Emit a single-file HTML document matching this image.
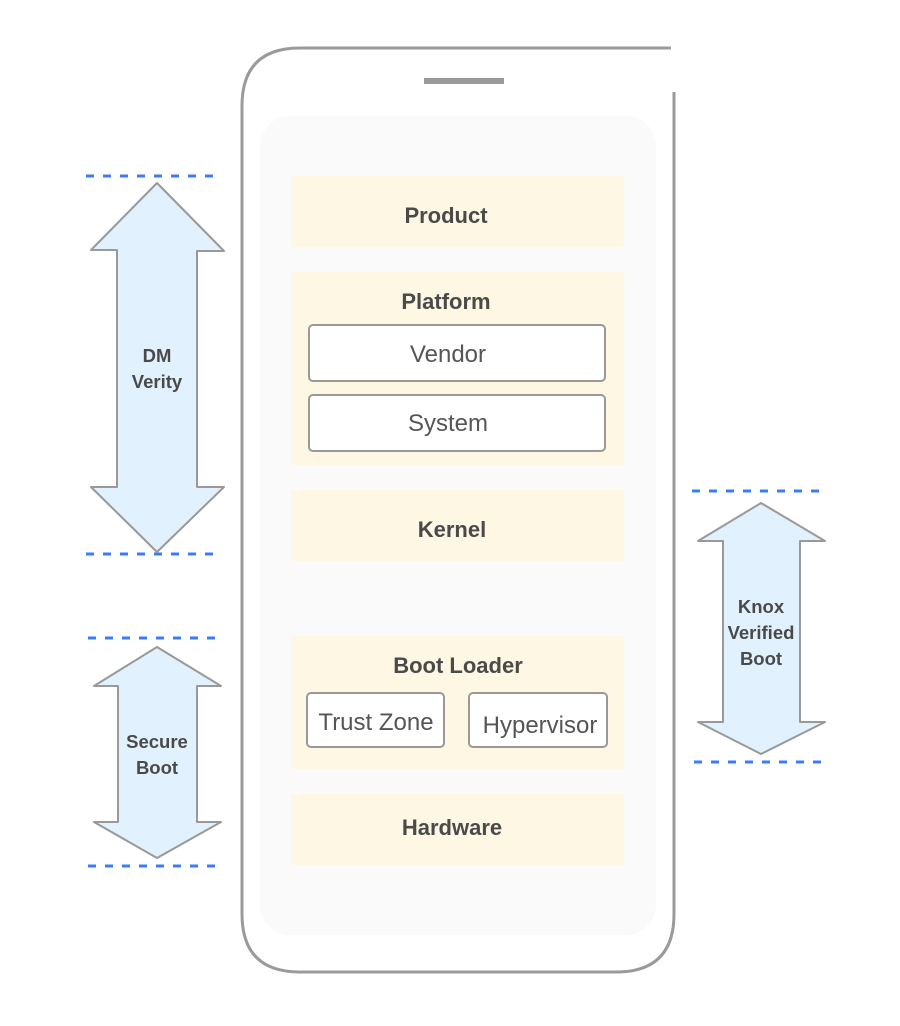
<!DOCTYPE html>
<html><head><meta charset="utf-8"><style>
html,body{margin:0;padding:0;background:#fff;width:900px;height:1026px;overflow:hidden}
svg{display:block}
text{font-family:"Liberation Sans",sans-serif;fill:#4a4a4a}
.b{font-weight:bold;font-size:22px}
.r{font-size:24px;fill:#555}
.a{font-weight:bold;font-size:18.5px}
</style></head><body>
<svg width="900" height="1026" viewBox="0 0 900 1026" xmlns="http://www.w3.org/2000/svg">
<path d="M671,48 L300,48 Q242,48 242,106 L242,914 Q242,972 300,972 L616,972 Q674,972 674,914 L674,92" fill="none" stroke="#9a9a9a" stroke-width="3"/>
<rect x="424" y="78" width="80" height="6" fill="#9a9a9a"/>
<rect x="260" y="116" width="396" height="819" rx="30" fill="#fafafa"/>
<rect x="291" y="176" width="333" height="71" rx="3" fill="#fdf7e3"/>
<text class="b" x="446" y="223" text-anchor="middle">Product</text>
<rect x="291" y="272" width="333" height="193" rx="3" fill="#fdf7e3"/>
<text class="b" x="446" y="309" text-anchor="middle">Platform</text>
<rect x="309" y="325" width="296" height="56" rx="4" fill="#fff" stroke="#999" stroke-width="2"/>
<text class="r" x="448" y="362" text-anchor="middle">Vendor</text>
<rect x="309" y="395" width="296" height="56" rx="4" fill="#fff" stroke="#999" stroke-width="2"/>
<text class="r" x="448" y="431" text-anchor="middle">System</text>
<rect x="291" y="490" width="333" height="71" rx="3" fill="#fdf7e3"/>
<text class="b" x="452" y="537" text-anchor="middle">Kernel</text>
<rect x="291" y="636" width="333" height="133" rx="3" fill="#fdf7e3"/>
<text class="b" x="458" y="673" text-anchor="middle">Boot Loader</text>
<rect x="307" y="693" width="137" height="54" rx="4" fill="#fff" stroke="#999" stroke-width="2"/>
<text class="r" x="376" y="730" text-anchor="middle">Trust Zone</text>
<rect x="469" y="693" width="138" height="54" rx="4" fill="#fff" stroke="#999" stroke-width="2"/>
<text class="r" x="540" y="733" text-anchor="middle">Hypervisor</text>
<rect x="291" y="794" width="333" height="71" rx="3" fill="#fdf7e3"/>
<text class="b" x="452" y="835" text-anchor="middle">Hardware</text>
<g stroke="#3b7cf5" stroke-width="3" stroke-dasharray="8,9">
<line x1="86" y1="176" x2="222" y2="176"/>
<line x1="86" y1="554" x2="222" y2="554"/>
<line x1="88" y1="638" x2="222" y2="638"/>
<line x1="88" y1="866" x2="222" y2="866"/>
<line x1="692" y1="491" x2="828" y2="491"/>
<line x1="694" y1="762" x2="828" y2="762"/>
</g>
<g fill="#e1f1fe" stroke="#999" stroke-width="2" stroke-linejoin="round">
<polygon points="157,183 224,251 197,251 197,487 224,487 157,552 91,487 117,487 117,250 91,250"/>
<polygon points="157,647 221,686 197,686 197,822 221,822 157,858 94,822 118,822 118,686 94,686"/>
<polygon points="761,503 825,541 800,541 800,722 825,722 761,754 698,722 723,722 723,541 698,541"/>
</g>
<text class="a" x="157" y="362" text-anchor="middle">DM</text>
<text class="a" x="157" y="388" text-anchor="middle">Verity</text>
<text class="a" x="157" y="748" text-anchor="middle">Secure</text>
<text class="a" x="157" y="774" text-anchor="middle">Boot</text>
<text class="a" x="761" y="613" text-anchor="middle">Knox</text>
<text class="a" x="761" y="639" text-anchor="middle">Verified</text>
<text class="a" x="761" y="665" text-anchor="middle">Boot</text>
</svg>
</body></html>
